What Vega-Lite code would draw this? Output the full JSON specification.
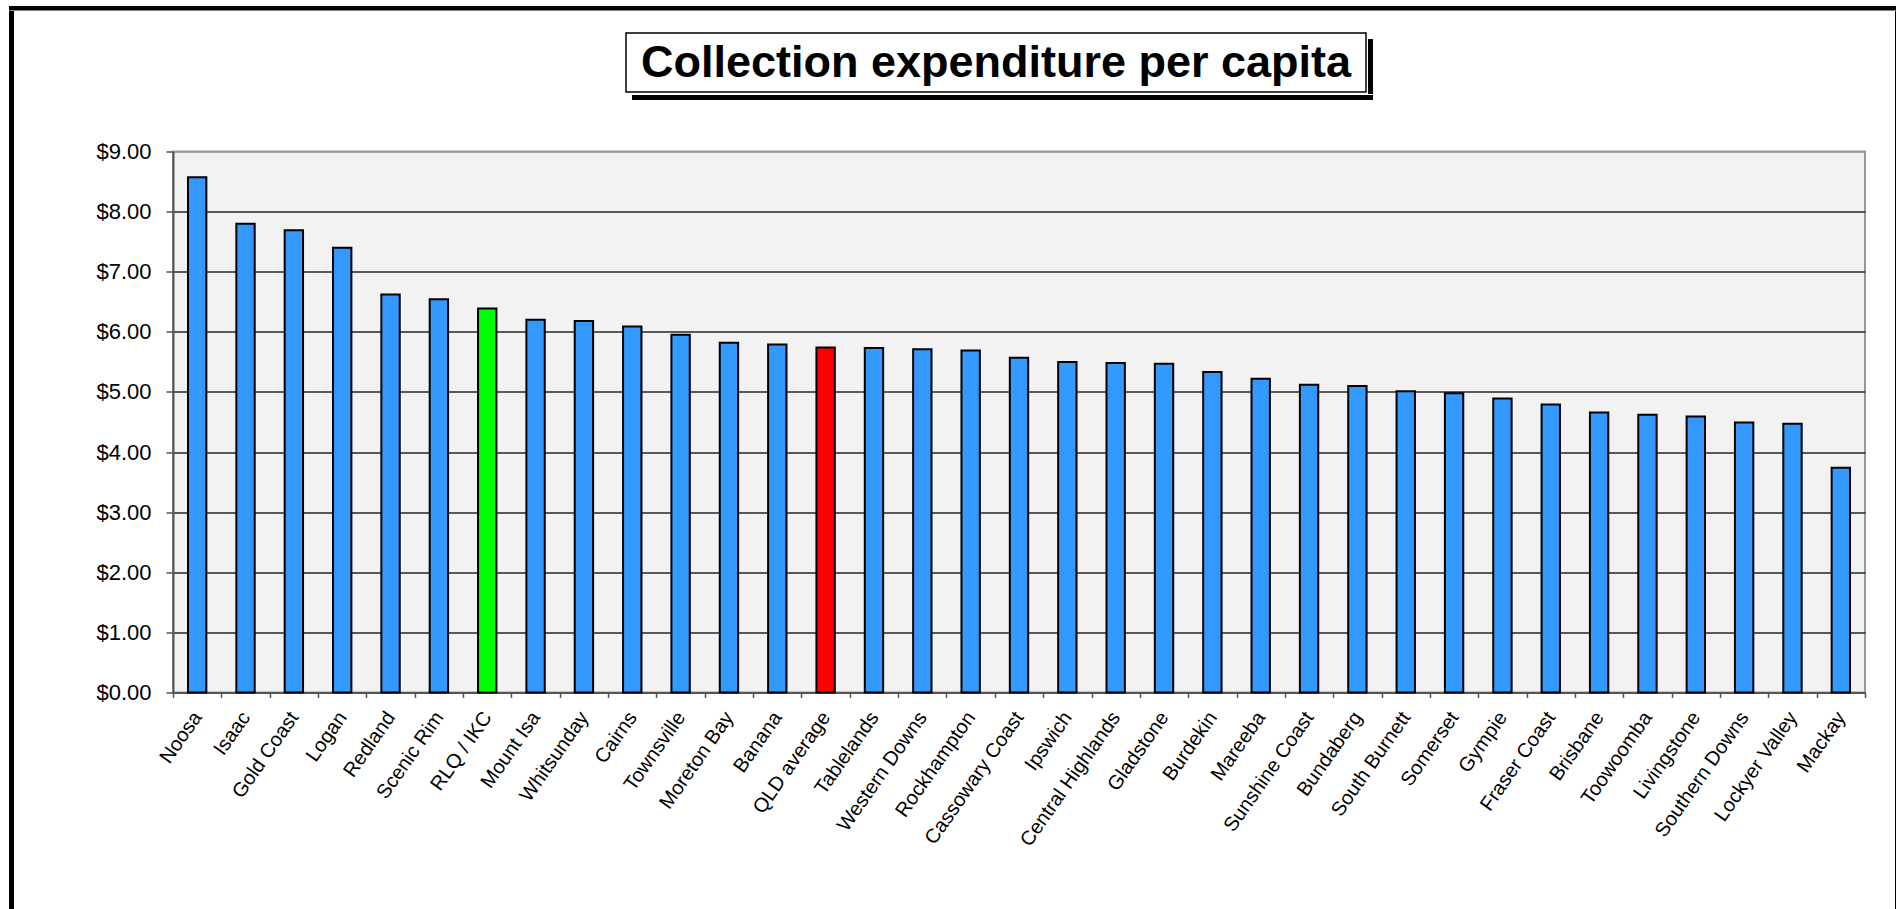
{
  "$schema": "https://vega.github.io/schema/vega-lite/v6.json",
  "padding": {"left": 8, "top": 5, "right": 0, "bottom": 0},
  "background": "white",
  "config": {"font": "Liberation Sans"},
  "spacing": 0,
  "vconcat": [
    {
      "data": {"values": [{"part": "frame-top"}]},
      "width": 1888,
      "height": 4.5,
      "view": {"fill": "black", "stroke": null},
      "mark": {"type": "point", "opacity": 0}
    },
    {
      "spacing": 0,
      "hconcat": [
        {
          "data": {"values": [{"part": "frame-left"}]},
          "width": 5,
          "height": 899,
          "view": {"fill": "black", "stroke": null},
          "mark": {"type": "point", "opacity": 0}
        },
        {
          "spacing": 0,
          "vconcat": [
            {
              "data": {"values": [{"part": "gap-top"}]},
              "width": 1721,
              "height": 21,
              "view": {"fill": null, "stroke": null},
              "mark": {"type": "point", "opacity": 0}
            },
            {
              "spacing": 38.5,
              "vconcat": [
                {
                  "spacing": 0,
                  "hconcat": [
                    {
                      "data": {"values": [{"part": "gap-left"}]},
                      "width": 452,
                      "height": 59,
                      "view": {"fill": null, "stroke": null},
                      "mark": {"type": "point", "opacity": 0}
                    },
                    {
                      "spacing": 0,
                      "vconcat": [
                        {
                          "spacing": 0,
                          "hconcat": [
                            {
                              "data": {"values": [{"title": "Collection expenditure per capita"}]},
                              "width": 740,
                              "height": 59,
                              "view": {"fill": "white", "stroke": "black", "strokeWidth": 1.5},
                              "mark": {"type": "text", "font": "Liberation Sans", "fontWeight": "bold", "fontSize": 45, "color": "black"},
                              "encoding": {"text": {"field": "title", "type": "nominal"}}
                            },
                            {
                              "spacing": 0,
                              "vconcat": [
                                {
                                  "data": {"values": [{"part": "shadow-gap"}]},
                                  "width": 5,
                                  "height": 5,
                                  "view": {"fill": null, "stroke": null},
                                  "mark": {"type": "point", "opacity": 0}
                                },
                                {
                                  "data": {"values": [{"part": "shadow-right"}]},
                                  "width": 5,
                                  "height": 55,
                                  "view": {"fill": "black", "stroke": null},
                                  "mark": {"type": "point", "opacity": 0}
                                }
                              ]
                            }
                          ]
                        },
                        {
                          "spacing": 0,
                          "hconcat": [
                            {
                              "data": {"values": [{"part": "shadow-gap2"}]},
                              "width": 5,
                              "height": 5,
                              "view": {"fill": null, "stroke": null},
                              "mark": {"type": "point", "opacity": 0}
                            },
                            {
                              "data": {"values": [{"part": "shadow-bottom"}]},
                              "width": 741,
                              "height": 5,
                              "view": {"fill": "black", "stroke": null},
                              "mark": {"type": "point", "opacity": 0}
                            }
                          ]
                        }
                      ]
                    }
                  ]
                },
                {
                  "data": {
                    "values": [
                      {"council": "Noosa", "value": 8.57, "group": "Council"},
                      {"council": "Isaac", "value": 7.80, "group": "Council"},
                      {"council": "Gold Coast", "value": 7.69, "group": "Council"},
                      {"council": "Logan", "value": 7.40, "group": "Council"},
                      {"council": "Redland", "value": 6.62, "group": "Council"},
                      {"council": "Scenic Rim", "value": 6.54, "group": "Council"},
                      {"council": "RLQ / IKC", "value": 6.39, "group": "RLQ / IKC"},
                      {"council": "Mount Isa", "value": 6.20, "group": "Council"},
                      {"council": "Whitsunday", "value": 6.18, "group": "Council"},
                      {"council": "Cairns", "value": 6.09, "group": "Council"},
                      {"council": "Townsville", "value": 5.95, "group": "Council"},
                      {"council": "Moreton Bay", "value": 5.82, "group": "Council"},
                      {"council": "Banana", "value": 5.79, "group": "Council"},
                      {"council": "QLD average", "value": 5.74, "group": "QLD average"},
                      {"council": "Tablelands", "value": 5.73, "group": "Council"},
                      {"council": "Western Downs", "value": 5.71, "group": "Council"},
                      {"council": "Rockhampton", "value": 5.69, "group": "Council"},
                      {"council": "Cassowary Coast", "value": 5.57, "group": "Council"},
                      {"council": "Ipswich", "value": 5.50, "group": "Council"},
                      {"council": "Central Highlands", "value": 5.48, "group": "Council"},
                      {"council": "Gladstone", "value": 5.47, "group": "Council"},
                      {"council": "Burdekin", "value": 5.33, "group": "Council"},
                      {"council": "Mareeba", "value": 5.22, "group": "Council"},
                      {"council": "Sunshine Coast", "value": 5.12, "group": "Council"},
                      {"council": "Bundaberg", "value": 5.10, "group": "Council"},
                      {"council": "South Burnett", "value": 5.01, "group": "Council"},
                      {"council": "Somerset", "value": 4.98, "group": "Council"},
                      {"council": "Gympie", "value": 4.89, "group": "Council"},
                      {"council": "Fraser Coast", "value": 4.79, "group": "Council"},
                      {"council": "Brisbane", "value": 4.66, "group": "Council"},
                      {"council": "Toowoomba", "value": 4.62, "group": "Council"},
                      {"council": "Livingstone", "value": 4.59, "group": "Council"},
                      {"council": "Southern Downs", "value": 4.49, "group": "Council"},
                      {"council": "Lockyer Valley", "value": 4.47, "group": "Council"},
                      {"council": "Mackay", "value": 3.74, "group": "Council"}
                    ]
                  },
                  "width": 1692,
                  "height": 541,
                  "view": {"fill": "#f2f2f2", "stroke": "#999999", "strokeWidth": 2},
                  "mark": {"type": "bar", "stroke": "black", "strokeWidth": 2, "width": {"band": 0.38}},
                  "encoding": {
                    "x": {
                      "field": "council",
                      "type": "nominal",
                      "sort": null,
                      "scale": {"paddingInner": 0, "paddingOuter": 0},
                      "axis": {
                        "title": null,
                        "labelAngle": -55,
                        "labelAlign": "right",
                        "labelBaseline": "middle",
                        "labelFontSize": 20,
                        "labelColor": "black",
                        "labelOffset": 0,
                        "labelPadding": 16,
                        "labelLimit": 400,
                        "labelOverlap": false,
                        "labelBound": false,
                        "tickBand": "extent",
                        "tickSize": 5,
                        "tickColor": "#555555",
                        "tickWidth": 1.5,
                        "domainColor": "#555555",
                        "domainWidth": 2,
                        "grid": false
                      }
                    },
                    "y": {
                      "field": "value",
                      "type": "quantitative",
                      "scale": {"domain": [0, 9], "nice": false},
                      "axis": {
                        "title": null,
                        "values": [0, 1, 2, 3, 4, 5, 6, 7, 8, 9],
                        "format": "$.2f",
                        "labelFontSize": 22,
                        "labelColor": "black",
                        "labelPadding": 15,
                        "tickSize": 7,
                        "tickColor": "#555555",
                        "tickWidth": 1.5,
                        "domainColor": "#555555",
                        "domainWidth": 2,
                        "grid": true,
                        "gridColor": {"condition": {"test": "datum.value === 9", "value": "#999999"}, "value": "#262626"},
                        "gridWidth": 1.3,
                        "minExtent": 157,
                        "maxExtent": 157
                      }
                    },
                    "color": {
                      "field": "group",
                      "type": "nominal",
                      "scale": {"domain": ["Council", "RLQ / IKC", "QLD average"], "range": ["#3399ff", "#00ff00", "#ff0000"]},
                      "legend": null
                    }
                  }
                }
              ]
            }
          ]
        },
        {
          "data": {"values": [{"part": "frame-right"}]},
          "width": 4,
          "height": 899,
          "view": {"fill": "black", "stroke": null},
          "mark": {"type": "point", "opacity": 0}
        }
      ]
    }
  ]
}
